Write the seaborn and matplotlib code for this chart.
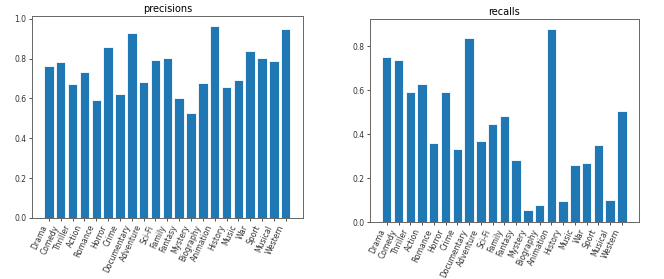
import matplotlib
matplotlib.use("Agg")
import matplotlib.pyplot as plt
import seaborn as sns

#####################################################################
# Data
#####################################################################
genres = ['Drama', 'Comedy', 'Thriller', 'Action', 'Romance', 'Horror', 'Crime',
          'Documentary', 'Adventure', 'Sci-Fi', 'Family', 'Fantasy', 'Mystery',
          'Biography', 'Animation', 'History', 'Music', 'War', 'Sport', 'Musical',
          'Western']
precisions = [0.765, 0.784, 0.670, 0.735, 0.591, 0.856, 0.621, 0.930, 0.682, 0.791,
              0.801, 0.601, 0.528, 0.678, 0.966, 0.657, 0.693, 0.839, 0.804, 0.789,
              0.950]
recalls = [0.750, 0.736, 0.590, 0.626, 0.361, 0.593, 0.331, 0.838, 0.370, 0.446,
           0.483, 0.283, 0.053, 0.078, 0.879, 0.094, 0.261, 0.268, 0.350, 0.099,
           0.503]

#####################################################################
# Plot
#####################################################################
fig = plt.figure(figsize=(6.64, 2.79), dpi=100)
ax1 = fig.add_axes([0.048, 0.219, 0.408, 0.724])
ax2 = fig.add_axes([0.557, 0.204, 0.405, 0.728])

for ax, values, title in [(ax1, precisions, 'precisions'), (ax2, recalls, 'recalls')]:
    sns.barplot(x=genres, y=values, ax=ax, color='#1f77b4', saturation=1,
                width=0.8, edgecolor='white', linewidth=0.6)
    n = len(genres)
    ax.set_xlim(-0.4 - 0.05 * (n - 0.2), n - 0.6 + 0.05 * (n - 0.2))
    ax.set_ylim(0, max(values) * 1.05)
    ax.set_title(title, fontsize=7, pad=3)
    ax.tick_params(axis='both', labelsize=5.5, length=2.5, width=0.6, pad=1.5, colors='#333333')
    plt.setp(ax.get_xticklabels(), rotation=65, ha='right', rotation_mode='default')
    for s in ax.spines.values():
        s.set_color('#666666')
        s.set_linewidth(0.7)

fig.savefig('out.png', dpi=100)
plt.close()
